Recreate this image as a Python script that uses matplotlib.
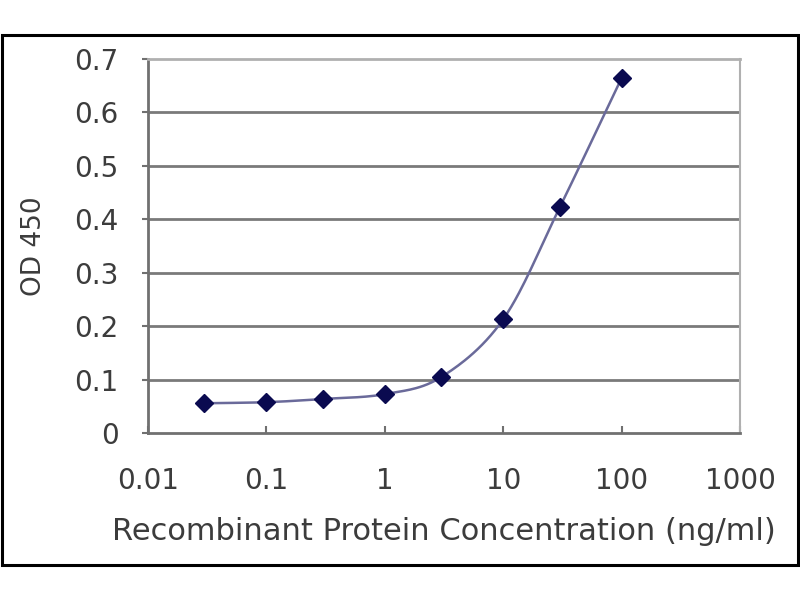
import numpy as np
import matplotlib
matplotlib.use('Agg')
import matplotlib.pyplot as plt
import matplotlib.ticker as ticker
from matplotlib.patches import Rectangle

plt.rcParams['font.family'] = ['DejaVu Sans']

# data
conc = [0.03, 0.1, 0.3, 1, 3, 10, 30, 100]
od450 = [0.056, 0.058, 0.064, 0.073, 0.105, 0.213, 0.422, 0.664]
x_ticks = [0.01, 0.1, 1, 10, 100, 1000]
x_tick_labels = ['0.01', '0.1', '1', '10', '100', '1000']
y_ticks = [0, 0.1, 0.2, 0.3, 0.4, 0.5, 0.6, 0.7]
y_tick_labels = ['0', '0.1', '0.2', '0.3', '0.4', '0.5', '0.6', '0.7']

text_color = '#3c3c3c'


def smooth_line(xs, ys, n=30):
    # Catmull-Rom style smoothing in log-x space (like a spreadsheet "smoothed line")
    lx = np.log10(xs)
    ys = np.asarray(ys)
    px = np.concatenate([[2 * lx[0] - lx[1]], lx, [2 * lx[-1] - lx[-2]]])
    py = np.concatenate([[2 * ys[0] - ys[1]], ys, [2 * ys[-1] - ys[-2]]])
    out_x, out_y = [], []
    t = np.linspace(0, 1, n)
    for i in range(1, len(px) - 2):
        for p, out in ((px, out_x), (py, out_y)):
            p0, p1, p2, p3 = p[i - 1], p[i], p[i + 1], p[i + 2]
            out.extend(0.5 * ((2 * p1) + (-p0 + p2) * t
                              + (2 * p0 - 5 * p1 + 4 * p2 - p3) * t ** 2
                              + (-p0 + 3 * p1 - 3 * p2 + p3) * t ** 3))
    return 10 ** np.array(out_x), np.array(out_y)


fig = plt.figure(figsize=(8, 6), dpi=100)
fig.patches.append(Rectangle((0.003, 0.058), 0.994, 0.884, transform=fig.transFigure,
                             fill=False, edgecolor='black', linewidth=2.2))

ax = fig.add_axes([0.185, 0.278, 0.74, 0.624])
ax.set_xscale('log')
ax.set_xlim(0.01, 1000)
ax.set_ylim(0, 0.7)

# gridlines
for y in y_ticks[1:-1]:
    ax.axhline(y, color='#7a7a7a', linewidth=2, zorder=1)

sx, sy = smooth_line(conc, od450)
ax.plot(sx, sy, color='#6a6a9a', linewidth=1.8, zorder=2)
ax.plot(conc, od450, linestyle='none', marker='D', markersize=9.5,
        color='#0a0a50', zorder=3)

ax.set_xticks(x_ticks)
ax.set_xticklabels(x_tick_labels)
ax.xaxis.set_minor_locator(ticker.NullLocator())
ax.set_yticks(y_ticks)
ax.set_yticklabels(y_tick_labels)

ax.tick_params(axis='x', direction='in', length=5, width=1.5, color='#707070',
               labelsize=20, labelcolor=text_color, pad=24)
ax.tick_params(axis='y', direction='out', length=4, width=1.5, color='#707070',
               labelsize=20, labelcolor=text_color, pad=17)

ax.spines['left'].set_color('#707070')
ax.spines['left'].set_linewidth(2)
ax.spines['bottom'].set_color('#707070')
ax.spines['bottom'].set_linewidth(2)
ax.spines['top'].set_color('#b0b0b0')
ax.spines['top'].set_linewidth(2)
ax.spines['right'].set_color('#b0b0b0')
ax.spines['right'].set_linewidth(1.5)

ax.set_xlabel('Recombinant Protein Concentration (ng/ml)', fontsize=22,
              color=text_color, labelpad=16)
ax.set_ylabel('OD 450', fontsize=19, color=text_color, labelpad=20)

fig.savefig('out.png', dpi=100)
